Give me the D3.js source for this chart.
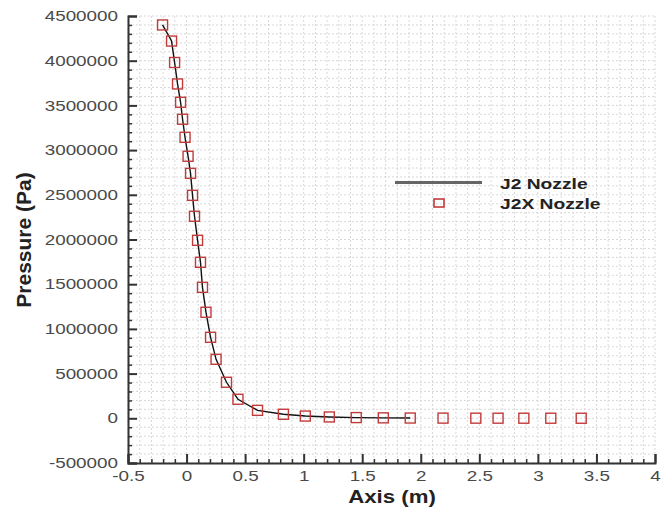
<!DOCTYPE html>
<html><head><meta charset="utf-8">
<script src="https://cdn.jsdelivr.net/npm/d3@7"></script>
<style>body{margin:0;background:#fff}svg{display:block;font-family:"Liberation Sans",Arial,Helvetica,sans-serif}</style>
</head><body><svg id="c" width="669" height="510"></svg>
<script>
// J2X Nozzle (markers)
const j2xX = [-0.205,-0.128,-0.102,-0.077,-0.051,-0.034,-0.013,0.013,0.034,0.051,0.068,0.094,0.119,0.136,0.166,0.205,0.252,0.341,0.439,0.606,0.827,1.014,1.219,1.449,1.680,1.910,2.19,2.47,2.66,2.88,3.11,3.37];
const j2xP = [4400000,4220000,3980000,3740000,3535000,3345000,3143000,2931000,2740000,2494000,2260000,1991000,1745000,1465000,1186000,906000,660000,403000,213000,89000,45000,25000,15000,8000,5000,3000,2000,1500,1200,1000,800,600];
// J2 Nozzle (line)
const j2X = [-0.205,-0.128,-0.102,-0.077,-0.051,-0.034,-0.013,0.013,0.034,0.051,0.068,0.094,0.119,0.136,0.166,0.205,0.252,0.341,0.439,0.606,0.827,1.014,1.219,1.449,1.680,1.910];
const j2P = [4400000,4220000,3980000,3740000,3535000,3345000,3143000,2931000,2740000,2494000,2260000,1991000,1745000,1465000,1186000,906000,660000,403000,213000,89000,45000,25000,15000,8000,5000,3000];
const xTicks = [-0.5,0,0.5,1,1.5,2,2.5,3,3.5,4];
const xTickLabels = ["-0.5","0","0.5","1","1.5","2","2.5","3","3.5","4"];
const yTicks = [-500000,0,500000,1000000,1500000,2000000,2500000,3000000,3500000,4000000,4500000];
const yTickLabels = ["-500000","0","500000","1000000","1500000","2000000","2500000","3000000","3500000","4000000","4500000"];
const seriesNames = ["J2 Nozzle","J2X Nozzle"];

const svg = d3.select("#c");
const L=128, R=655, T=16, B=463;
const x = d3.scaleLinear().domain([-0.5,4]).range([L,R]);
const y = d3.scaleLinear().domain([-500000,4500000]).range([B,T]);
const SX = 1.3;

// grid
const xMinor = d3.range(-0.5,4.0001,0.1).map(v=>+v.toFixed(2));
const yMinor = d3.range(-500000,4500001,100000);
const g = svg.append("g");
g.selectAll("line.gx").data(xMinor).join("line")
  .attr("x1",d=>x(d)).attr("x2",d=>x(d)).attr("y1",T).attr("y2",B)
  .attr("stroke","#d4d4d4").attr("stroke-width",0.9).attr("stroke-dasharray","2,2");
g.selectAll("line.gy").data(yMinor).join("line")
  .attr("y1",d=>y(d)).attr("y2",d=>y(d)).attr("x1",L).attr("x2",R)
  .attr("stroke","#d4d4d4").attr("stroke-width",0.9).attr("stroke-dasharray","2,2");

// axes
const ax = svg.append("g").attr("transform",`translate(0,${B})`)
  .call(d3.axisBottom(x).tickValues(xTicks).tickFormat((d,i)=>xTickLabels[i]).tickSize(-9).tickPadding(8));
const axm = svg.append("g").attr("transform",`translate(0,${B})`)
  .call(d3.axisBottom(x).tickValues(xMinor.filter(v=>!xTicks.some(t=>Math.abs(t-v)<1e-6))).tickFormat("").tickSize(-4));
const ay = svg.append("g").attr("transform",`translate(${L},0)`)
  .call(d3.axisLeft(y).tickValues(yTicks).tickFormat((d,i)=>yTickLabels[i]).tickSize(-9).tickPadding(7.7));
const aym = svg.append("g").attr("transform",`translate(${L},0)`)
  .call(d3.axisLeft(y).tickValues(yMinor.filter(v=>v%500000!==0)).tickFormat("").tickSize(-4));
[ax,axm,ay,aym].forEach(a=>{
  a.select(".domain").attr("stroke","#333").attr("stroke-width",2);
  a.selectAll(".tick line").attr("stroke","#333").attr("stroke-width",1.5);
  a.selectAll("text").attr("font-size",14.5).attr("fill","#4a4a4a")
   .attr("font-family","Liberation Sans,Arial,sans-serif").attr("transform",`scale(${SX},1)`);
});
axm.select(".domain").remove(); aym.select(".domain").remove();
ax.selectAll(".tick line").attr("stroke-width",2);
ay.selectAll(".tick line").attr("stroke-width",2);

// line
svg.append("path").datum(j2X.map((v,i)=>[v,j2P[i]]))
  .attr("d",d3.line().x(d=>x(d[0])).y(d=>y(d[1])))
  .attr("fill","none").attr("stroke","#111").attr("stroke-width",1.4);

// markers
svg.selectAll("rect.m").data(j2xX.map((v,i)=>[v,j2xP[i]])).join("rect")
  .attr("x",d=>x(d[0])-5).attr("y",d=>y(d[1])-5).attr("width",10).attr("height",10)
  .attr("fill","none").attr("stroke","#c23b3b").attr("stroke-width",1.4);

// legend
svg.append("line").attr("x1",395).attr("x2",482).attr("y1",182.5).attr("y2",182.5)
  .attr("stroke","#666").attr("stroke-width",3);
svg.append("rect").attr("x",434).attr("y",199).attr("width",10).attr("height",8)
  .attr("fill","none").attr("stroke","#c23b3b").attr("stroke-width",1.6);
svg.append("text").attr("transform",`translate(500,188.5) scale(${SX},1)`).text(seriesNames[0])
  .attr("font-size",14.8).attr("font-weight","bold").attr("fill","#222");
svg.append("text").attr("transform",`translate(500,209) scale(${SX},1)`).text(seriesNames[1])
  .attr("font-size",14.8).attr("font-weight","bold").attr("fill","#222");

// axis titles
svg.append("text").attr("transform","translate(392,503) scale(1.17,1)").attr("text-anchor","middle")
  .attr("font-size",19).attr("font-weight","bold").attr("fill","#222").text("Axis (m)");
svg.append("text").attr("transform","translate(31,240) rotate(-90)").attr("text-anchor","middle")
  .attr("font-size",21).attr("font-weight","bold").attr("fill","#222").text("Pressure (Pa)");
</script></body></html>
